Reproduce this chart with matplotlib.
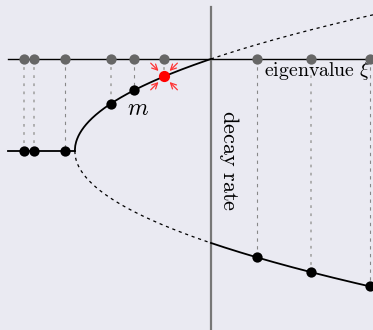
import numpy as np
import matplotlib.pyplot as plt

plt.rcParams['mathtext.fontset'] = 'cm'

# branch point of the two decay-rate branches
xi_c = 1.48

# eigenvalues that are sampled (left of the branch point: flat branch)
xi_flat = [-2.03, -1.92, -1.59]
xi_upper = [-1.09, -0.84]
xi_lower = [0.50, 1.09, 1.73]
xi_min = -0.51          # slowest mode, marked in red
faint = [True, True, False, True, False, True, False, True]


def rate_upper(xi):
    return 1 - np.sqrt(1 + np.asarray(xi) / xi_c)


def rate_lower(xi):
    return 1 + np.sqrt(1 + np.asarray(xi) / xi_c)


fig = plt.figure(figsize=(3.73, 3.30), dpi=100)
ax = fig.add_axes([0, 0, 1, 1])
ax.set_facecolor('#eaeaf2')
fig.patch.set_facecolor('#eaeaf2')
ax.set_xlim(-2.293, 1.761)
ax.set_ylim(2.946, -0.641)
ax.axis('off')

# axes
ax.plot([-2.21, 1.761], [0, 0], color='black', lw=1.0, zorder=2)
ax.plot([0, 0], [-0.565, 2.946], color='#777777', lw=1.6, zorder=2)

# branches
xs = np.linspace(-xi_c, 0, 300)
ax.plot(xs, rate_upper(xs), color='black', lw=1.3, zorder=3)
ax.plot(xs, rate_lower(xs), color='black', lw=0.9, ls=(0, (2.5, 3)), zorder=3)
xs2 = np.linspace(0, 1.761, 200)
ax.plot(xs2, rate_upper(xs2), color='black', lw=0.9, ls=(0, (2.5, 3)), zorder=3)
ax.plot(xs2, rate_lower(xs2), color='black', lw=1.3, zorder=3)
ax.plot([-2.21, -xi_c], [1, 1], color='black', lw=1.3, zorder=3)

# sampled modes
xi_all = xi_flat + xi_upper + [xi_min] + xi_lower
r_all = [1.0] * len(xi_flat) + list(rate_upper(xi_upper)) + [float(rate_upper(xi_min))] + list(rate_lower(xi_lower))
for xi, r, f in zip(xi_all, r_all, faint + [False]):
    if f:
        ax.plot([xi, xi], [0, r], color='#aaaaaa', lw=1.3, ls=(0, (1.5, 3)), zorder=1)
    else:
        ax.plot([xi, xi], [0, r], color='#888888', lw=0.8, ls=(0, (3, 4)), zorder=1)
ax.scatter(xi_all, [0] * len(xi_all), s=55, color='#666666', zorder=4, linewidths=0)
ax.scatter(xi_flat + xi_upper + xi_lower,
           [1.0] * len(xi_flat) + list(rate_upper(xi_upper)) + list(rate_lower(xi_lower)),
           s=55, color='black', zorder=5, linewidths=0)

# slowest mode with inward arrows
r_min = float(rate_upper(xi_min))
ax.scatter([xi_min], [r_min], s=65, color='#ff0000', zorder=6, linewidths=0)
for dx, dy in [(-1, -1), (1, -1), (-1, 1), (1, 1)]:
    ax.annotate('', xy=(xi_min + 0.06 * dx, r_min + 0.06 * dy),
                xytext=(xi_min + 0.145 * dx, r_min + 0.145 * dy),
                arrowprops=dict(arrowstyle='->', color='#ff3333', lw=0.9,
                                mutation_scale=10, shrinkA=0, shrinkB=0),
                zorder=6)

ax.text(-0.79, 0.53, '$m$', fontsize=17, ha='center', va='center')
ax.text(1.15, 0.13, r'$\mathrm{eigenvalue}\ \xi$', fontsize=14.3, ha='center', va='center')
ax.text(0.196, 1.10, r'$\mathrm{decay\ rate}$', fontsize=16, ha='center', va='center',
        rotation=-90)

fig.savefig('out.png', dpi=100, facecolor=fig.get_facecolor())
